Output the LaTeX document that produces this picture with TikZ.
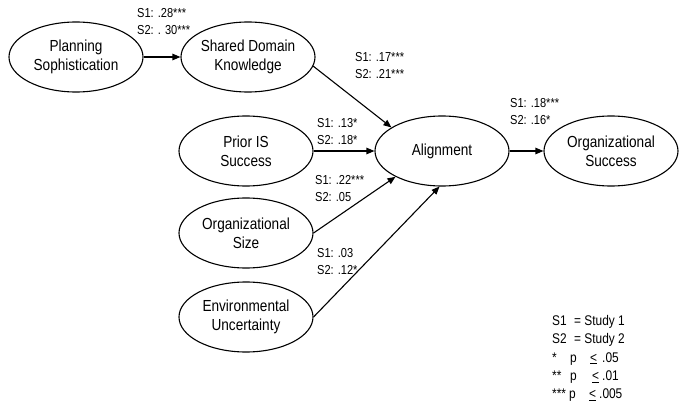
\documentclass[tikz,border=0pt]{standalone}
\usepackage{fontspec}
\setmainfont[FakeStretch=0.85]{Liberation Sans}
\usetikzlibrary{shapes.geometric,arrows.meta}
\begin{document}
\begin{tikzpicture}[x=1pt,y=-1pt,
  latent/.style={draw,ellipse,line width=1.1pt,minimum width=134pt,minimum height=70pt,inner sep=0pt,align=center,font=\fontsize{16}{19}\selectfont},
  coef/.style={anchor=west,align=left,inner sep=0pt,font=\fontsize{13}{17}\selectfont},
  link/.style={draw,line width=1.1pt,-{Triangle[length=8pt,width=6.5pt]}}]
\useasboundingbox[fill=white] (0,0) rectangle (681,407);
% latent constructs
\node[latent] (plan) at (76,57) {Planning\\Sophistication};
\node[latent] (shared) at (248,57) {Shared Domain\\Knowledge};
\node[latent] (prior) at (246,151) {Prior IS\\Success};
\node[latent] (align) at (442,151) {Alignment};
\node[latent] (orgs) at (611,151) {Organizational\\Success};
\node[latent] (size) at (246,233) {Organizational\\Size};
\node[latent] (env) at (246,317) {Environmental\\Uncertainty};
% paths
\draw[link] (plan) -- (shared);
\draw[link] (shared.-8) -- (align.155);
\draw[link] (prior) -- (align);
\draw[link] (size.east) -- (align.209);
\draw[link] (env.east) -- (align.266);
\draw[link] (align) -- (orgs);
% coefficients
\node[coef] (c1) at (137,21.5) {S1: .28***\\S2: . 30***};
\node[coef] (c2) at (355,66) {S1: .17***\\S2: .21***};
\node[coef] (c3) at (317,131.5) {S1: .13*\\S2: .18*};
\node[coef] (c4) at (315,188.5) {S1: .22***\\S2: .05};
\node[coef] (c5) at (317,261.5) {S1: .03\\S2: .12*};
\node[coef] (c6) at (510,111.5) {S1: .18***\\S2: .16*};
% legend
\node[anchor=west,align=left,inner sep=0pt,font=\fontsize{14}{18.25}\selectfont] (legend) at (552,358.5)
  {\makebox[22pt][l]{S1}= Study 1\\
   \makebox[22pt][l]{S2}= Study 2\\
   \makebox[18pt][l]{*}\makebox[20pt][l]{p}\makebox[12pt][l]{\underline{<}}.05\\
   \makebox[18pt][l]{**}\makebox[22pt][l]{p}\makebox[10pt][l]{\underline{<}}.01\\
   \makebox[17pt][l]{***}\makebox[20pt][l]{p}\makebox[10pt][l]{\underline{<}}.005};
\end{tikzpicture}
\end{document}
